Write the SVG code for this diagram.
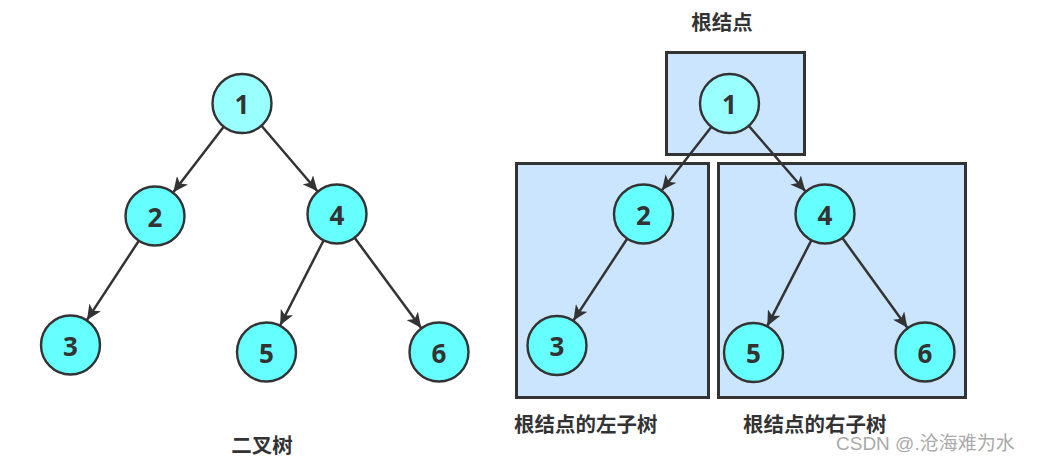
<svg xmlns="http://www.w3.org/2000/svg" width="1040" height="462" viewBox="0 0 1040 462">
<defs>
<style>
.n{stroke:#333;stroke-width:2.4;fill:#66FFFF}
.r{fill:#99FFFF}
.t{font-family:"Open Sans","Liberation Sans",sans-serif;font-weight:700;font-size:26px;fill:#333;text-anchor:middle;dominant-baseline:central}
.e{stroke:#333;stroke-width:2.5;fill:none;marker-end:url(#ah)}
.box{fill:#CCE5FF;stroke:#333;stroke-width:3}
.lb{font-family:"Noto Sans CJK SC","Noto Sans",sans-serif;font-weight:700;font-size:20.5px;fill:#333}
.wm{font-family:"Liberation Sans","Noto Sans CJK SC",sans-serif;font-size:19px;fill:#aaa}
</style>
<marker id="ah" markerUnits="userSpaceOnUse" markerWidth="16" markerHeight="14" refX="15" refY="7" orient="auto">
<path d="M0,0 L15,7 L0,14 L4,7 Z" fill="#333"/>
</marker>
</defs>
<rect width="1040" height="462" fill="#fff"/>
<g id="boxes">
<rect id="box-root" class="box" x="666.5" y="52.5" width="138" height="102"/>
<rect id="box-left" class="box" x="516.5" y="163.5" width="192" height="234"/>
<rect id="box-right" class="box" x="718.5" y="163.5" width="247" height="234"/>
</g>
<g id="connectors">
<line class="e" x1="223.7" y1="126.8" x2="173.3" y2="192.2"/>
<line class="e" x1="261.5" y1="125.8" x2="317.5" y2="191.2"/>
<line class="e" x1="138.6" y1="241.1" x2="87" y2="319.9"/>
<line class="e" x1="323.4" y1="240.7" x2="280.2" y2="325.3"/>
<line class="e" x1="354.8" y1="238.1" x2="421.2" y2="327.9"/>
<line class="e" x1="711.1" y1="127.2" x2="661.9" y2="190.3"/>
<line class="e" x1="749.1" y1="126.2" x2="805.4" y2="191.3"/>
<line class="e" x1="627" y1="239" x2="573.5" y2="320.4"/>
<line class="e" x1="811.2" y1="240.6" x2="767.3" y2="325.9"/>
<line class="e" x1="842.6" y1="238.3" x2="907.4" y2="327.7"/>
</g>
<g id="L1"><circle class="n r" cx="242" cy="103.5" r="29.5"/><text class="t" x="242" y="104">1</text></g>
<g id="L2"><circle class="n" cx="155" cy="216" r="29.5"/><text class="t" x="155" y="216.5">2</text></g>
<g id="L4"><circle class="n" cx="337" cy="214" r="29.5"/><text class="t" x="337" y="214.5">4</text></g>
<g id="L3"><circle class="n" cx="70.5" cy="345" r="29.5"/><text class="t" x="70.5" y="345.5">3</text></g>
<g id="L5"><circle class="n" cx="266.5" cy="352" r="29.5"/><text class="t" x="266.5" y="352.5">5</text></g>
<g id="L6"><circle class="n" cx="439" cy="352" r="29.5"/><text class="t" x="439" y="352.5">6</text></g>
<g id="R1"><circle class="n r" cx="729.5" cy="103.5" r="29.5"/><text class="t" x="729.5" y="104">1</text></g>
<g id="R2"><circle class="n" cx="643.5" cy="214" r="29.5"/><text class="t" x="643.5" y="214.5">2</text></g>
<g id="R4"><circle class="n" cx="825" cy="214" r="29.5"/><text class="t" x="825" y="214.5">4</text></g>
<g id="R3"><circle class="n" cx="557" cy="345.5" r="29.5"/><text class="t" x="557" y="346">3</text></g>
<g id="R5"><circle class="n" cx="753.5" cy="352.5" r="29.5"/><text class="t" x="753.5" y="353">5</text></g>
<g id="R6"><circle class="n" cx="925" cy="352" r="29.5"/><text class="t" x="925" y="352.5">6</text></g>
<g id="labels">
<text class="lb" x="722" y="30" text-anchor="middle" font-size="21.5">根结点</text>
<text class="lb" x="262" y="453" text-anchor="middle">二叉树</text>
<text class="lb" x="514" y="432">根结点的左子树</text>
<text class="lb" x="743" y="432">根结点的右子树</text>
<text class="wm" x="836" y="450">CSDN @.沧海难为水</text>
</g>
</svg>
